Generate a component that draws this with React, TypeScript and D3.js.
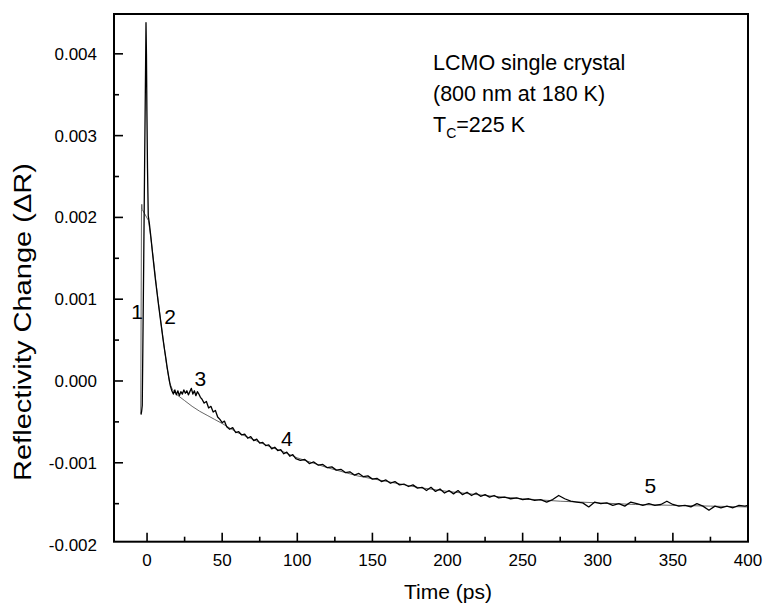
import React from "react";
import * as d3 from "d3";

// Measured transient reflectivity trace: [time (ps), ΔR]
const traceTime = [
  -4.0, -3.6, -3.2, -2.8, -2.2, -1.6, -1.0, -0.7, -0.4, -0.1, 0.3, 0.8, 1.5, 2.5, 3.5, 4.5, 5.5, 6.5, 7.5, 8.5,
  9.5, 10.5, 11.5, 12.5, 13.5, 14.5, 15.5, 16.5, 17.5, 18.5, 19.5, 20.5, 21.5, 22.5, 23.5, 24.5, 25.5, 26.5, 27.5,
  28.5, 29.5, 30.5, 31.5, 32.5, 33.5, 34.5, 35.5, 36.5, 38, 39.5, 41, 42.5, 44, 45.5, 47, 48.5, 50, 51.5, 53, 55,
  57, 59, 61, 63, 65, 67, 69, 71, 73, 75, 77, 79, 81, 83, 85, 87, 89, 91, 93, 95, 97, 99, 102, 105, 108, 111, 114,
  117, 120, 123, 126, 129, 132, 135, 138, 141, 144, 147, 150, 153, 156, 159, 162, 165, 168, 171, 174, 177, 180,
  183, 186, 189, 192, 195, 198, 201, 204, 207, 210, 213, 216, 219, 222, 225, 228, 231, 234, 238, 242, 246, 250,
  254, 258, 262, 266, 270, 274, 278, 282, 286, 290, 294, 298, 302, 306, 310, 314, 318, 322, 326, 330, 334, 338,
  342, 346, 350, 354, 358, 362, 366, 370, 374, 378, 382, 386, 390, 394, 398, 400,
];
const traceValue = [
  -0.00041, -0.00037, -0.0003, 0.0004, 0.0015, 0.0027, 0.0038, 0.00438, 0.004, 0.0033, 0.0026, 0.00202, 0.00193,
  0.00177, 0.00159, 0.00142, 0.00125, 0.0011, 0.00095, 0.00081, 0.00067, 0.00053, 0.0004, 0.00028, 0.00015,
  0.00004, -0.00006, -0.00012, -0.00016, -0.00011, -0.00017, -0.00012, -0.00018, -0.00013, -0.00016, -0.00011,
  -0.00015, -0.00012, -0.00017, -0.00013, -0.00009, -0.00016, -0.00012, -0.00018, -0.00013, -0.00016, -0.0002,
  -0.00022, -0.00027, -0.00025, -0.00033, -0.00031, -0.00038, -0.00036, -0.00044, -0.00047, -0.00051, -0.00049,
  -0.00056, -0.00059, -0.00057, -0.00063, -0.00062, -0.00066, -0.00065, -0.0007, -0.00068, -0.00073, -0.00071,
  -0.00076, -0.00075, -0.00079, -0.00078, -0.00083, -0.00081, -0.00085, -0.00084, -0.00089, -0.00087, -0.00092,
  -0.0009, -0.00095, -0.00097, -0.00096, -0.00101, -0.00099, -0.00103, -0.00102, -0.00106, -0.00105, -0.00109,
  -0.00108, -0.00112, -0.00111, -0.00115, -0.00113, -0.00117, -0.00116, -0.0012, -0.00119, -0.00123, -0.00121,
  -0.00125, -0.00123, -0.00127, -0.00126, -0.00129, -0.00127, -0.00131, -0.0013, -0.00134, -0.0013, -0.00135,
  -0.00132, -0.00137, -0.00134, -0.00138, -0.00134, -0.00139, -0.00136, -0.0014, -0.00137, -0.00141, -0.00139,
  -0.00142, -0.0014, -0.00143, -0.00142, -0.00144, -0.00143, -0.00145, -0.00144, -0.00146, -0.00145, -0.00148,
  -0.00145, -0.0014, -0.00144, -0.00147, -0.00148, -0.00149, -0.00154, -0.00148, -0.0015, -0.00149, -0.00152,
  -0.0015, -0.00153, -0.00148, -0.0015, -0.00152, -0.0015, -0.00152, -0.00151, -0.00147, -0.00151, -0.00153,
  -0.00152, -0.00154, -0.0015, -0.00153, -0.00158, -0.00153, -0.00155, -0.00153, -0.00155, -0.00152, -0.00153,
  -0.00152,
];

// Multi-exponential fit to the trace
const fitTime = [
  -4.2, -3.7, -3.5, -3.3, 1, 3, 5, 7, 9, 11, 13, 15, 17, 20, 25, 30, 35, 40, 45, 50, 60, 70, 80, 90, 100, 120, 140,
  160, 180, 200, 225, 250, 275, 300, 325, 350, 375, 400,
];
const fitValue = [
  -0.0004, 0.0021, 0.00216, 0.0021, 0.00196, 0.00168, 0.00136, 0.00104, 0.00075, 0.00047, 0.0002, -0.00002,
  -0.00011, -0.00017, -0.00024, -0.00031, -0.00037, -0.00042, -0.00047, -0.00052, -0.00063, -0.00071, -0.00079,
  -0.00086, -0.00094, -0.00106, -0.00116, -0.00123, -0.0013, -0.00135, -0.0014, -0.00144, -0.00147, -0.00149,
  -0.00151, -0.00152, -0.00153, -0.00154,
];

const xMajorTicks = [0, 50, 100, 150, 200, 250, 300, 350, 400];
const xMinorTicks = [25, 75, 125, 175, 225, 275, 325, 375];
const yMajorTicks = [-0.002, -0.001, 0, 0.001, 0.002, 0.003, 0.004];
const yMinorTicks = [-0.0015, -0.0005, 0.0005, 0.0015, 0.0025, 0.0035];

// Region markers along the decay
const regionLabels = ["1", "2", "3", "4", "5"];
const regionTime = [-6.7, 15.3, 35.5, 93, 335];
const regionValue = [0.00085, 0.00079, 0.00003, -0.0007, -0.00128];

const noteLines = ["LCMO single crystal", "(800 nm at 180 K)"];

const W = 767;
const H = 610;
const left = 114;
const right = 748;
const top = 14;
const bottom = 541.7;

export default function App() {
  const x = d3.scaleLinear().domain([-22, 400]).range([left, right]);
  const y = d3.scaleLinear().domain([-0.001965, 0.004487]).range([bottom, top]);

  const trace = traceTime.map((t, i) => [t, traceValue[i]] as [number, number]);
  const fit = fitTime.map((t, i) => [t, fitValue[i]] as [number, number]);
  const line = d3
    .line<[number, number]>()
    .x((d) => x(d[0]))
    .y((d) => y(d[1]));

  const font = "'Liberation Sans', Arial, Helvetica, sans-serif";
  const inY = (v: number) => y(v) >= top - 0.5 && y(v) <= bottom + 0.5;

  return (
    <svg
      width={W}
      height={H}
      viewBox={`0 0 ${W} ${H}`}
      style={{ position: "absolute", left: 0, top: 0, background: "#fff" }}
      fontFamily={font}
    >
      <rect x={0} y={0} width={W} height={H} fill="#fff" />

      {/* fit curve */}
      <path d={line(fit) ?? ""} fill="none" stroke="#555" strokeWidth={0.9} />
      {/* measured trace */}
      <path d={line(trace) ?? ""} fill="none" stroke="#000" strokeWidth={1.3} strokeLinejoin="round" />

      {/* ticks */}
      {xMajorTicks.map((t) => (
        <line key={`xM${t}`} x1={x(t)} x2={x(t)} y1={bottom} y2={bottom - 9} stroke="#000" strokeWidth={1.6} />
      ))}
      {xMinorTicks.map((t) => (
        <line key={`xm${t}`} x1={x(t)} x2={x(t)} y1={bottom} y2={bottom - 5} stroke="#000" strokeWidth={1.6} />
      ))}
      {yMajorTicks.filter(inY).map((v) => (
        <line key={`yM${v}`} x1={left} x2={left + 9} y1={y(v)} y2={y(v)} stroke="#000" strokeWidth={1.6} />
      ))}
      {yMinorTicks.filter(inY).map((v) => (
        <line key={`ym${v}`} x1={left} x2={left + 5} y1={y(v)} y2={y(v)} stroke="#000" strokeWidth={1.6} />
      ))}

      {/* frame */}
      <rect x={left} y={top} width={right - left} height={bottom - top} fill="none" stroke="#000" strokeWidth={2} />

      {/* tick labels */}
      {xMajorTicks.map((t) => (
        <text key={`xl${t}`} x={x(t)} y={566} textAnchor="middle" fontSize={17} fill="#000">
          {t}
        </text>
      ))}
      {yMajorTicks.map((v) => (
        <text key={`yl${v}`} x={97} y={y(v)} dy="0.35em" textAnchor="end" fontSize={17} fill="#000">
          {d3.format(".3f")(v).replace("−", "-")}
        </text>
      ))}

      {/* axis titles */}
      <text x={448} y={599} textAnchor="middle" fontSize={21} fill="#000">
        Time (ps)
      </text>
      <text
        transform={`translate(31, ${322}) rotate(-90)`}
        textAnchor="middle"
        fontSize={23}
        textLength={318}
        lengthAdjust="spacingAndGlyphs"
        fill="#000"
      >
        Reflectivity Change (ΔR)
      </text>

      {/* annotation */}
      {noteLines.map((s, i) => (
        <text key={s} x={433} y={70 + i * 31} fontSize={21.5} fill="#000">
          {s}
        </text>
      ))}
      <text x={433} y={132} fontSize={21.5} fill="#000">
        T<tspan fontSize={14} dy={6}>C</tspan>
        <tspan dy={-6}>=225 K</tspan>
      </text>

      {/* region markers */}
      {regionLabels.map((s, i) => (
        <text
          key={s}
          x={x(regionTime[i])}
          y={y(regionValue[i])}
          dy="0.35em"
          textAnchor="middle"
          fontSize={21}
          fill="#000"
        >
          {s}
        </text>
      ))}
    </svg>
  );
}
